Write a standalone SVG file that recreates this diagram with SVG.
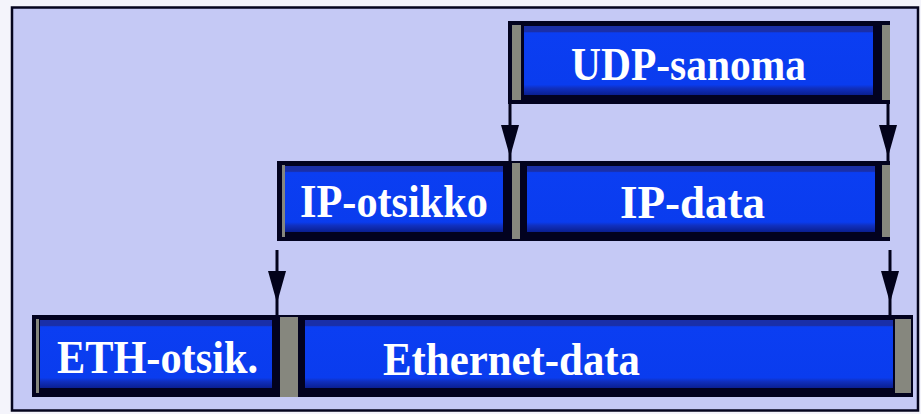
<svg xmlns="http://www.w3.org/2000/svg" width="921" height="414" viewBox="0 0 921 414">
<style>
.frame{fill:#c5c9f5;stroke:#05051e;stroke-width:2.5}
.outer{fill:#02021f}
.blue{fill:url(#bg)}
.gray{fill:#86877e}
.lbl{font-family:"Liberation Serif","Times New Roman",serif;font-weight:bold;font-size:46px;fill:#ffffff}
.conn{stroke:#02021a;stroke-width:3;fill:none;marker-mid:url(#ah)}
</style>
<defs>
<linearGradient id="bg" x1="0" y1="0" x2="0" y2="1">
<stop offset="0" stop-color="#1a2fa8"/>
<stop offset="0.08" stop-color="#1a2fa8"/>
<stop offset="0.1" stop-color="#0b3ef2"/>
<stop offset="0.85" stop-color="#0a3cee"/>
<stop offset="0.9" stop-color="#1030c0"/>
<stop offset="1" stop-color="#0a1f90"/>
</linearGradient>
<marker id="ah" viewBox="0 0 32 20" refX="32" refY="10" markerWidth="32" markerHeight="20" markerUnits="userSpaceOnUse" orient="auto">
<path d="M0,1 L32,10 L0,19 z" fill="#02021a"/>
</marker>
</defs>
<rect x="0" y="0" width="921" height="414" fill="#f4f4fb"/>
<rect class="frame" x="12" y="7.5" width="906" height="403"/>

<g id="udp-sanoma">
<rect class="outer" x="508" y="21" width="382" height="83"/>
<rect class="gray" x="512" y="25" width="9" height="75"/>
<rect class="gray" x="882" y="25" width="8" height="75"/>
<rect class="blue" x="524" y="26" width="349" height="69"/>
<text class="lbl" x="571" y="80" textLength="235" lengthAdjust="spacingAndGlyphs">UDP-sanoma</text>
</g>

<g id="ip-otsikko">
<rect class="outer" x="277" y="161" width="235" height="80"/>
<rect class="gray" x="282" y="165" width="3" height="72"/>
<rect class="blue" x="285" y="166" width="218" height="66"/>
<text class="lbl" x="300" y="217" textLength="188" lengthAdjust="spacingAndGlyphs">IP-otsikko</text>
</g>

<g id="ip-data">
<rect class="outer" x="512" y="161" width="378" height="80"/>
<rect class="gray" x="512" y="163" width="8" height="76"/>
<rect class="gray" x="882" y="165" width="8" height="72"/>
<rect class="blue" x="527" y="166" width="348" height="66"/>
<text class="lbl" x="620" y="218" textLength="145" lengthAdjust="spacingAndGlyphs">IP-data</text>
</g>

<g id="eth-otsik">
<rect class="outer" x="32" y="315" width="248" height="82"/>
<rect class="gray" x="36" y="319" width="3" height="74"/>
<rect class="blue" x="40" y="320" width="232" height="68"/>
<text class="lbl" x="57" y="373" textLength="201" lengthAdjust="spacingAndGlyphs">ETH-otsik.</text>
</g>

<g id="ethernet-data">
<rect class="outer" x="280" y="315" width="633" height="82"/>
<rect class="gray" x="280" y="317" width="18" height="80"/>
<rect class="gray" x="895" y="319" width="16" height="74"/>
<rect class="blue" x="305" y="320" width="588" height="68"/>
<text class="lbl" x="383" y="375" textLength="257" lengthAdjust="spacingAndGlyphs">Ethernet-data</text>
</g>

<g id="connectors">
<path class="conn" d="M510,104 L510,157 L510,161"/>
<path class="conn" d="M888,104 L888,157 L888,161"/>
<path class="conn" d="M277,250 L277,303 L277,315"/>
<path class="conn" d="M890,250 L890,303 L890,315"/>
</g>
</svg>
